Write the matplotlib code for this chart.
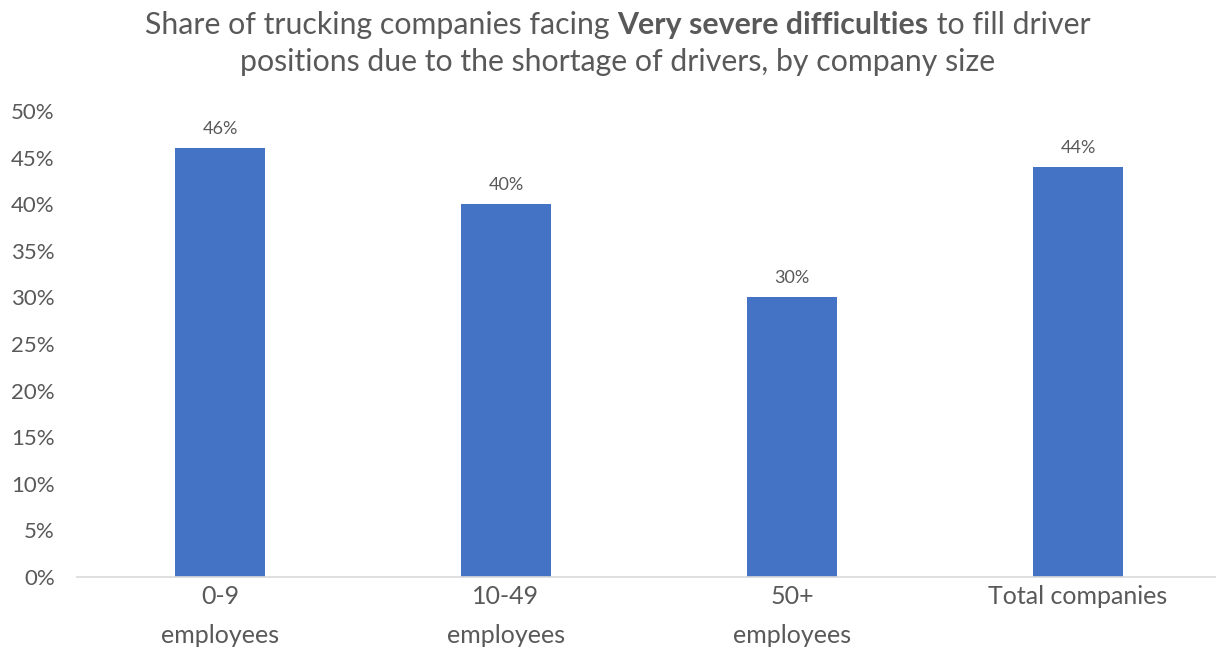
import matplotlib
matplotlib.use("Agg")
import matplotlib.pyplot as plt
from matplotlib.ticker import FuncFormatter, MultipleLocator

categories = ["0-9\nemployees", "10-49\nemployees", "50+\nemployees", "Total companies"]
shares = [46, 40, 30, 44]
value_labels = ["46%", "40%", "30%", "44%"]

plt.rcParams["font.family"] = ["Lato", "DejaVu Sans"]
GREY = "#595959"
BAR = "#4472C4"

fig = plt.figure(figsize=(12.16, 6.62), dpi=100)
ax = fig.add_axes([77 / 1216, 1 - 577 / 662, (1221 - 77) / 1216, (577 - 111) / 662])

x = range(len(categories))
bars = ax.bar(x, shares, width=0.315, color=BAR, zorder=2)
ax.set_xlim(-0.5, len(categories) - 0.5)
ax.set_ylim(0, 50)
ax.yaxis.set_major_locator(MultipleLocator(5))
ax.yaxis.set_major_formatter(FuncFormatter(lambda v, p: f"{v:.0f}%"))

for b, lab in zip(bars, value_labels):
    ax.annotate(lab, (b.get_x() + b.get_width() / 2, b.get_height()),
                xytext=(0, 8), textcoords="offset points",
                ha="center", va="bottom", fontsize=13, color=GREY)

ax.set_xticks(list(x))
ax.set_xticklabels(categories, fontsize=18, color=GREY, linespacing=1.85, va="top")
ax.tick_params(axis="y", labelsize=16, labelcolor=GREY, length=0, pad=16)
ax.tick_params(axis="x", length=0, pad=6)
for s in ["top", "right", "left"]:
    ax.spines[s].set_visible(False)
ax.spines["bottom"].set_color("#d9d9d9")
ax.spines["bottom"].set_linewidth(1.2)

# Title: two centered lines, with a bold phrase in the first one
fs = 21.8
cx = 0.508
parts = [("Share of trucking companies facing ", "normal"),
         ("Very severe difficulties", "bold"),
         (" to fill driver", "normal")]
fig.canvas.draw()
renderer = fig.canvas.get_renderer()
texts = [fig.text(0, 1 - 25 / 662, t, fontsize=fs, fontweight=w, color=GREY,
                  va="center", ha="left") for t, w in parts]
widths = [t.get_window_extent(renderer).width for t in texts]
total = sum(widths)
start = cx * 1216 - total / 2
for t, w in zip(texts, widths):
    t.set_x(start / 1216)
    start += w
fig.text(cx, 1 - 62 / 662, "positions due to the shortage of drivers, by company size",
         fontsize=fs, color=GREY, ha="center", va="center")

fig.savefig("out.png", dpi=100)
